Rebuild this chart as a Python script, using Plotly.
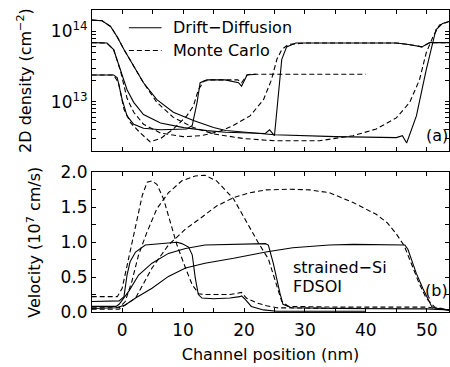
import math
import plotly.graph_objects as go

# ---------------- data ----------------
# 2D density in units of 1e12 cm^-2
dd50_x = [-5, -3.3, -1.9, -0.8, 0.3, 1.9, 3.5, 5.7, 8.4, 11.7, 15, 17, 25, 35, 45, 46, 46.7, 48.3, 49.9, 51.5, 52.6, 53.7]
dd50_n = [144, 141, 117, 83, 55, 31.6, 18.6, 10.7, 7.1, 5.4, 4.3, 3.9, 3.4, 3.2, 3.1, 3.3, 2.6, 6.3, 28, 105, 129, 138]
mc50_x = [-5, -3.3, -1.9, -0.8, 0.3, 1.9, 3.5, 5.7, 8.4, 11.7, 15, 20, 25, 32.4, 37.9, 41.7, 45, 47.2, 48.8, 49.9, 51, 52.1, 53.7]
mc50_n = [144, 141, 117, 83, 55, 31.6, 18.6, 9.8, 6.0, 4.3, 3.5, 3.0, 2.8, 2.8, 3.3, 4.1, 5.9, 9.8, 20.4, 49, 83, 123, 138]

dd25_x = [-5, -2.5, -1.4, -0.3, 0.8, 1.9, 3.5, 6.3, 10.1, 13.9, 17, 23.5, 24.2, 25.0, 25.6, 26.2, 27, 28.5, 45, 47, 49.2, 50.5, 53.7]
dd25_n = [69, 68, 55, 28, 14.8, 9.8, 6.6, 5.0, 4.3, 3.9, 3.7, 3.55, 4.0, 3.3, 12.6, 40, 60, 68, 68, 65, 60, 69, 69]
mc25_x = [-5, -2.5, -1.4, -0.3, 0.8, 1.9, 3.5, 6.3, 10, 13, 16, 18.2, 21, 23.2, 24.5, 25.4, 26.2, 27.3, 30, 45, 47, 49.2, 50.5, 53.7]
mc25_n = [69, 68, 55, 28, 11.2, 7.1, 4.8, 3.6, 3.2, 3.3, 3.8, 4.6, 6.3, 10.7, 20.4, 40, 55, 65, 68, 68, 65, 60, 69, 69]

dd10_x = [-5, -1.4, -0.8, 0, 0.8, 1.9, 3.5, 6.3, 10.6, 11.5, 12.3, 12.8, 13.9, 16.9, 19.1, 19.6, 20.5, 22]
dd10_n = [24, 24, 21.9, 10.7, 6.3, 4.8, 4.2, 4.0, 4.1, 4.6, 9.8, 18.6, 20.4, 20.4, 18.6, 16.6, 24, 24.5]
mc10_x = [-5, -1.4, -0.6, 0.3, 1.4, 3, 4.6, 6.3, 8.4, 10.6, 11.7, 12.5, 13.4, 14.5, 19, 19.6, 20.5, 21, 40]
mc10_n = [24, 24, 18.6, 7.8, 5.0, 3.6, 2.7, 3.0, 4.1, 6.3, 8.7, 14.8, 19.5, 20.4, 20.4, 18.6, 24, 24.5, 24.5]

# velocity in units of 1e7 cm/s
dv10_x = [-5, -1, -0.5, 0.3, 0.8, 1.3, 2.2, 3.8, 6.5, 9, 9.8, 10.9, 11.5, 12, 12.5, 13.1, 15, 17.7, 19.3, 19.6, 20.1, 21.2, 23.2, 25.4, 40]
dv10_v = [0.15, 0.15, 0.16, 0.22, 0.53, 0.72, 0.86, 0.96, 0.98, 1.0, 0.98, 0.93, 0.82, 0.49, 0.25, 0.20, 0.19, 0.20, 0.22, 0.23, 0.19, 0.08, 0.03, 0.01, 0.01]
mv10_x = [-5, -0.8, 0, 1.1, 2.2, 3.3, 4.1, 4.9, 5.7, 6.8, 7.9, 9, 10.4, 11.5, 12.6, 13.6, 17.7, 19.6, 20.4, 22.1, 23.7, 25.4, 40]
mv10_v = [0.22, 0.22, 0.34, 0.77, 1.24, 1.67, 1.86, 1.88, 1.83, 1.62, 1.29, 0.96, 0.63, 0.39, 0.26, 0.25, 0.25, 0.28, 0.20, 0.13, 0.09, 0.06, 0.05]

dv25_x = [-5, -1, -0.5, 1.1, 2.7, 4.9, 7.6, 10.4, 13.6, 18.3, 22.6, 23.5, 24, 24.8, 25.9, 26.4, 27.8, 35, 50, 51.5, 53.7]
dv25_v = [0.08, 0.08, 0.11, 0.30, 0.53, 0.70, 0.84, 0.91, 0.96, 0.97, 0.98, 0.98, 0.96, 0.70, 0.27, 0.11, 0.06, 0.05, 0.045, 0.04, 0.03]
mv25_x = [-5, -0.5, 0.5, 1.6, 2.7, 4.1, 5.7, 7.6, 9.8, 12, 13.6, 15.5, 18.3, 20.4, 22.3, 24, 25.1, 26.2, 27.3, 35, 50, 51.5, 53.7]
mv25_v = [0.06, 0.06, 0.15, 0.44, 0.82, 1.15, 1.48, 1.71, 1.88, 1.95, 1.96, 1.88, 1.62, 1.29, 1.0, 0.76, 0.46, 0.15, 0.08, 0.07, 0.07, 0.05, 0.03]

dv50_x = [-5, -1, 0.5, 2.2, 4.9, 7.6, 10.4, 13.6, 18.3, 23.6, 28, 34, 38, 45, 46.4, 46.9, 48.3, 49.4, 50.2, 50.8, 51.5, 53.7]
dv50_v = [0.05, 0.06, 0.10, 0.20, 0.34, 0.51, 0.63, 0.70, 0.77, 0.86, 0.92, 0.96, 0.97, 0.97, 0.96, 0.90, 0.55, 0.33, 0.18, 0.08, 0.05, 0.025]
mv50_x = [-5, -0.5, 2.2, 4.9, 7.6, 10.4, 12.8, 15.5, 18.3, 21, 23.6, 27.5, 30.8, 34, 37.9, 41.7, 43.5, 45, 46.3, 47.7, 48.8, 49.9, 51.3, 53.7]
mv50_v = [0.04, 0.04, 0.20, 0.63, 0.96, 1.19, 1.34, 1.52, 1.64, 1.71, 1.75, 1.76, 1.75, 1.71, 1.57, 1.40, 1.28, 1.12, 0.95, 0.65, 0.40, 0.20, 0.07, 0.03]

x_ticks = [0, 10, 20, 30, 40, 50]
v_ticks = [0.0, 0.5, 1.0, 1.5, 2.0]
dens_major = [1e13, 1e14]
dens_major_text = ["10<sup>13</sup>", "10<sup>14</sup>"]
legend_labels = ["Drift\u2212Diffusion", "Monte Carlo"]

# ---------------- figure ----------------
SOLID = dict(color="black", width=1.1)
DASH = dict(color="black", width=1.1, dash="5px,3px")
FONT = "DejaVu Sans, Verdana, sans-serif"

fig = go.Figure()

def add(x, y, line, xa, ya):
    fig.add_trace(go.Scatter(x=x, y=y, mode="lines", line=line, xaxis=xa, yaxis=ya,
                             showlegend=False, hoverinfo="skip"))

add(dd50_x, [v * 1e12 for v in dd50_n], SOLID, "x", "y")
add(mc50_x, [v * 1e12 for v in mc50_n], DASH, "x", "y")
add(dd25_x, [v * 1e12 for v in dd25_n], SOLID, "x", "y")
add(mc25_x, [v * 1e12 for v in mc25_n], DASH, "x", "y")
add(mc10_x, [v * 1e12 for v in mc10_n], DASH, "x", "y")
add(dd10_x, [v * 1e12 for v in dd10_n], SOLID, "x", "y")

add(dv10_x, dv10_v, SOLID, "x2", "y2")
add(mv10_x, mv10_v, DASH, "x2", "y2")
add(dv25_x, dv25_v, SOLID, "x2", "y2")
add(mv25_x, mv25_v, DASH, "x2", "y2")
add(dv50_x, dv50_v, SOLID, "x2", "y2")
add(mv50_x, mv50_v, DASH, "x2", "y2")

xr = [-4.95, 53.65]
dens_minor = [m * dec for dec in (1e12, 1e13, 1e14) for m in range(2, 10) if 2e12 <= m * dec <= 2e14]

axis_common = dict(showline=True, linecolor="black", linewidth=1, mirror="ticks",
                   ticks="inside", tickcolor="black", ticklen=4, showgrid=False, zeroline=False,
                   tickfont=dict(size=17, color="black", family=FONT))

# manual legend (line samples + labels)
shapes = [
    dict(type="line", xref="paper", yref="paper", x0=0.1033, x1=0.1947, y0=0.941, y1=0.941,
         line=dict(color="black", width=1.1)),
    dict(type="line", xref="paper", yref="paper", x0=0.1033, x1=0.1947, y0=0.866, y1=0.866,
         line=dict(color="black", width=1.1, dash="5px,3px")),
]

fig.update_layout(
    width=450, height=367,
    margin=dict(l=92, r=0, t=7, b=55),
    paper_bgcolor="white", plot_bgcolor="white",
    font=dict(family=FONT, color="black", size=16),
    showlegend=False,
    xaxis=dict(domain=[0, 1], range=xr, anchor="y", showticklabels=False,
               tickvals=x_ticks, minor=dict(ticks="inside", dtick=5, tick0=0, ticklen=4, tickcolor="black"),
               **axis_common),
    yaxis=dict(domain=[0.533, 1], type="log", range=[12.301, 14.301], anchor="x",
               tickvals=dens_major, ticktext=dens_major_text,
               minor=dict(ticks="inside", tickvals=dens_minor, ticklen=4, tickcolor="black"),
               title=dict(text="2D density (cm<sup>\u22122</sup>)", font=dict(size=16), standoff=15),
               **axis_common),
    xaxis2=dict(domain=[0, 1], range=xr, anchor="y2", tickvals=x_ticks, ticklabelstandoff=3,
                minor=dict(ticks="inside", dtick=5, tick0=0, ticklen=4, tickcolor="black"),
                title=dict(text="Channel position (nm)", font=dict(size=16), standoff=9),
                **axis_common),
    yaxis2=dict(domain=[0, 0.462], range=[0, 2.0], anchor="x2", tickvals=v_ticks, tickformat=".1f",
                minor=dict(ticks="inside", dtick=0.25, ticklen=4, tickcolor="black"),
                title=dict(text="Velocity (10<sup>7</sup> cm/s)", font=dict(size=16), standoff=15),
                **axis_common),
    shapes=shapes,
    annotations=[
        dict(text=legend_labels[0], x=0.2226, y=0.941, xref="paper", yref="paper",
             xanchor="left", yanchor="middle", showarrow=False, font=dict(size=16)),
        dict(text=legend_labels[1], x=0.2226, y=0.866, xref="paper", yref="paper",
             xanchor="left", yanchor="middle", showarrow=False, font=dict(size=16)),
        dict(text="(a)", x=0.966, y=0.584, xref="paper", yref="paper", showarrow=False,
             xanchor="center", yanchor="middle", font=dict(size=16)),
        dict(text="(b)", x=0.964, y=0.072, xref="paper", yref="paper", showarrow=False,
             xanchor="center", yanchor="middle", font=dict(size=16)),
        dict(text="strained\u2212Si", x=0.5578, y=0.1466, xref="paper", yref="paper",
             xanchor="left", yanchor="middle", showarrow=False, font=dict(size=16)),
        dict(text="FDSOI", x=0.5578, y=0.0852, xref="paper", yref="paper",
             xanchor="left", yanchor="middle", showarrow=False, font=dict(size=16)),
    ],
)

fig.write_html("out.html")
